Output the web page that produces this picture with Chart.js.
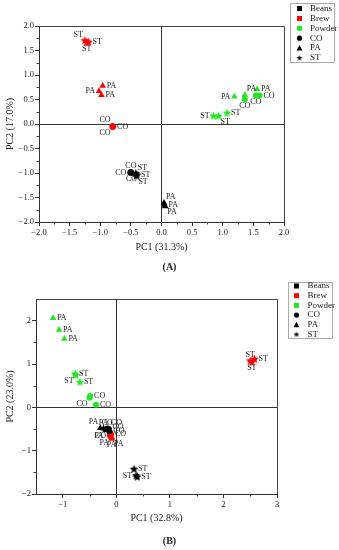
<!DOCTYPE html>
<html>
<head>
<meta charset="utf-8">
<script src="https://cdn.jsdelivr.net/npm/chart.js@4.4.1/dist/chart.umd.min.js"></script>
<style>
  body { margin: 0; background: #fff; }
  .panel { width: 339px; height: 275px; }
</style>
</head>
<body>
<div class="panel"><canvas id="chartA" width="339" height="275"></canvas></div>
<div class="panel"><canvas id="chartB" width="339" height="275"></canvas></div>
<script>
// ---- data (A) : [PC1, PC2] per sample ----
const aBeansCO  = [[-0.50, -0.98], [-0.51, -0.99], [-0.49, -1.00]];
const aBeansPA  = [[0.04, -1.61], [0.05, -1.65], [0.06, -1.68]];
const aBeansST  = [[-0.42, -1.01], [-0.40, -1.04], [-0.41, -1.06]];
const aBrewCO   = [[-0.80, -0.04], [-0.80, -0.06], [-0.79, -0.05]];
const aBrewPA   = [[-0.96, 0.78], [-1.02, 0.67], [-0.98, 0.59]];
const aBrewST   = [[-1.25, 1.70], [-1.19, 1.67], [-1.22, 1.66]];
const aPowderCO = [[1.36, 0.50], [1.54, 0.58], [1.60, 0.58]];
const aPowderPA = [[1.19, 0.56], [1.36, 0.59], [1.56, 0.71]];
const aPowderST = [[0.85, 0.16], [0.93, 0.16], [1.07, 0.22]];

// ---- data (B) ----
const bBeansCO  = [[-0.17, -0.49], [-0.14, -0.50], [-0.13, -0.55]];
const bBeansPA  = [[-0.30, -0.48], [-0.24, -0.49], [-0.20, -0.53]];
const bBeansST  = [[0.33, -1.43], [0.37, -1.58], [0.39, -1.61]];
const bBrewCO   = [[-0.10, -0.62], [-0.11, -0.60], [-0.12, -0.65]];
const bBrewPA   = [[-0.10, -0.68], [-0.08, -0.70], [-0.09, -0.73]];
const bBrewST   = [[2.50, 1.07], [2.58, 1.11], [2.53, 1.04]];
const bPowderCO = [[-0.49, 0.26], [-0.50, 0.22], [-0.38, 0.06]];
const bPowderPA = [[-1.18, 2.06], [-1.07, 1.79], [-0.97, 1.58]];
const bPowderST = [[-0.77, 0.77], [-0.76, 0.74], [-0.68, 0.58]];

const groups = ['Beans', 'Brew', 'Powder'];
const kinds = ['CO', 'PA', 'ST'];

const aTicksX = [-2.0, -1.5, -1.0, -0.5, 0.0, 0.5, 1.0, 1.5, 2.0];
const aTicksY = [-2.0, -1.5, -1.0, -0.5, 0.0, 0.5, 1.0, 1.5, 2.0];
const bTicksX = [-1, 0, 1, 2, 3];
const bTicksY = [-2, -1, 0, 1, 2];

// label placement for each point (r/l/t/b)
const aSides = {
  BeansCO: ['t', 'l', 'b'], BeansPA: ['tr', 'r', 'br'], BeansST: ['tr', 'r', 'br'],
  BrewCO: ['tl', 'bl', 'r'], BrewPA: ['r', 'l', 'r'], BrewST: ['tl', 'r', 'b'],
  PowderCO: ['b', 'b', 'r'], PowderPA: ['l', 'tr', 'r'], PowderST: ['l', 'br', 'r']
};
const bSides = {
  BeansCO: ['t', 'tr', 'r'], BeansPA: ['tl', 't', 'bl'], BeansST: ['r', 'l', 'r'],
  BrewCO: ['r', 'tr', 'l'], BrewPA: ['bl', 'br', 'b'], BrewST: ['t', 'r', 'b'],
  PowderCO: ['r', 'bl', 'r'], PowderPA: ['r', 'r', 'r'], PowderST: ['r', 'bl', 'r']
};

const colors = { Beans: '#000000', Brew: '#ff0000', Powder: '#22e622' };
const SERIF = '"Liberation Serif", "Times New Roman", serif';

function starImage(color, r) {
  const c = document.createElement('canvas');
  const s = Math.ceil(r * 2) + 2;
  c.width = c.height = s;
  const g = c.getContext('2d');
  g.fillStyle = color;
  g.beginPath();
  for (let k = 0; k < 10; k++) {
    const rr = k % 2 ? r * 0.45 : r;
    const a = -Math.PI / 2 + k * Math.PI / 5;
    g.lineTo(s / 2 + rr * Math.cos(a), s / 2 + rr * Math.sin(a));
  }
  g.closePath();
  g.fill();
  return c;
}

function buildDatasets(sets, sides) {
  const out = [];
  groups.forEach(g => {
    kinds.forEach(k => {
      const col = colors[g];
      let style = 'circle', radius = 3;
      if (k === 'PA') { style = 'triangle'; radius = 3.8; }
      if (k === 'ST') { style = starImage(col, 4.5); radius = 4.5; }
      out.push({
        label: g + ' ' + k,
        tag: k,
        sides: sides[g + k],
        data: sets[g + k].map(p => ({ x: p[0], y: p[1] })),
        pointStyle: style,
        pointRadius: radius,
        pointBorderWidth: 0,
        backgroundColor: col,
        borderColor: col,
        showLine: false
      });
    });
  });
  return out;
}

// point tags (CO / PA / ST) beside each marker
const pointTags = {
  id: 'pointTags',
  afterDatasetsDraw(chart) {
    const ctx = chart.ctx;
    ctx.save();
    ctx.font = '8px ' + SERIF;
    ctx.fillStyle = '#222';
    ctx.textBaseline = 'middle';
    chart.data.datasets.forEach((ds, i) => {
      chart.getDatasetMeta(i).data.forEach((pt, j) => {
        const side = ds.sides[j];
        let dx = 0, dy = 0, align = 'center';
        if (side.includes('r')) { dx = 4; align = 'left'; }
        if (side.includes('l')) { dx = -4; align = 'right'; }
        if (side.includes('t')) dy = -6;
        if (side.includes('b')) dy = 6;
        if (side.length === 2) dx = dx / 2;
        ctx.textAlign = align;
        ctx.fillText(ds.tag, pt.x + dx, pt.y + dy);
      });
    });
    ctx.restore();
  }
};

// box frame, minor ticks, legend and panel caption
const decor = {
  id: 'decor',
  afterDraw(chart, args, opts) {
    const ctx = chart.ctx;
    const a = chart.chartArea;
    ctx.save();
    ctx.strokeStyle = '#444';
    ctx.lineWidth = 1;
    ctx.beginPath();
    ctx.moveTo(a.left, a.top + 0.5);
    ctx.lineTo(a.right + 0.5, a.top + 0.5);
    ctx.lineTo(a.right + 0.5, a.bottom);
    ctx.stroke();

    // minor ticks between the labelled ones
    const xs = chart.scales.x, ys = chart.scales.y;
    ctx.beginPath();
    opts.minorX.forEach(v => {
      const px = Math.round(xs.getPixelForValue(v)) + 0.5;
      ctx.moveTo(px, a.bottom); ctx.lineTo(px, a.bottom + 2.5);
    });
    opts.minorY.forEach(v => {
      const py = Math.round(ys.getPixelForValue(v)) + 0.5;
      ctx.moveTo(a.left, py); ctx.lineTo(a.left - 2.5, py);
    });
    ctx.stroke();

    // legend
    const L = opts.legend;
    ctx.strokeStyle = '#aaa';
    ctx.strokeRect(L.x + 0.5, L.y + 0.5, L.w, L.h);
    ctx.font = '9px ' + SERIF;
    ctx.fillStyle = '#222';
    ctx.textAlign = 'left';
    ctx.textBaseline = 'middle';
    const items = [
      ['Beans', colors.Beans, 'rect'], ['Brew', colors.Brew, 'rect'], ['Powder', colors.Powder, 'rect'],
      ['CO', '#000', 'circle'], ['PA', '#000', 'triangle'], ['ST', '#000', 'star']
    ];
    items.forEach((it, i) => {
      const cy = L.y + L.first + i * L.step;
      const cx = L.x + L.mark;
      ctx.fillStyle = it[1];
      if (it[2] === 'rect') ctx.fillRect(cx - 2.5, cy - 2.5, 5, 5);
      if (it[2] === 'circle') { ctx.beginPath(); ctx.arc(cx, cy, 2.6, 0, Math.PI * 2); ctx.fill(); }
      if (it[2] === 'triangle') {
        ctx.beginPath(); ctx.moveTo(cx, cy - 3); ctx.lineTo(cx + 3, cy + 2.4); ctx.lineTo(cx - 3, cy + 2.4);
        ctx.closePath(); ctx.fill();
      }
      if (it[2] === 'star') { const s = starImage('#000', 3); ctx.drawImage(s, cx - s.width / 2, cy - s.height / 2); }
      ctx.fillStyle = '#222';
      ctx.fillText(it[0], L.x + L.text, cy);
    });

    // caption
    ctx.font = 'bold 10px ' + SERIF;
    ctx.textAlign = 'center';
    ctx.fillText(opts.caption, chart.width / 2, opts.captionY);
    ctx.restore();
  }
};

function fmtA(v) { return (v < 0 ? '\u2212' : '') + Math.abs(v).toFixed(1); }
function fmtB(v) { return (v < 0 ? '\u2212' : '') + Math.abs(v).toFixed(0); }

function makeChart(id, c) {
  const tickFont = { family: SERIF, size: 8.5 };
  const titleFont = { family: SERIF, size: 10 };
  const gridCfg = {
    drawOnChartArea: true,
    color: ctx => (ctx.tick && ctx.tick.value === 0) ? '#333' : 'rgba(0,0,0,0)',
    tickColor: '#333',
    tickLength: 4,
    lineWidth: 1
  };
  return new Chart(document.getElementById(id), {
    type: 'scatter',
    data: { datasets: c.datasets },
    options: {
      responsive: false,
      animation: false,
      events: [],
      layout: { padding: c.padding },
      plugins: {
        legend: { display: false },
        tooltip: { enabled: false },
        decor: c.decor
      },
      scales: {
        x: {
          type: 'linear', min: c.xMin, max: c.xMax,
          afterBuildTicks: s => { s.ticks = c.ticksX.map(v => ({ value: v })); },
          afterFit: s => { s.height = c.xh; },
          ticks: { callback: c.fmt, font: tickFont, color: '#222', padding: 2, maxRotation: 0, autoSkip: false },
          grid: gridCfg,
          border: { display: true, color: '#333', width: 1 },
          title: { display: true, text: c.xTitle, font: titleFont, color: '#222', padding: { top: 0, bottom: 0 } }
        },
        y: {
          type: 'linear', min: c.yMin, max: c.yMax,
          afterBuildTicks: s => { s.ticks = c.ticksY.map(v => ({ value: v })); },
          afterFit: s => { s.width = c.yw; },
          ticks: { callback: c.fmt, font: tickFont, color: '#222', padding: 1, autoSkip: false },
          grid: gridCfg,
          border: { display: true, color: '#333', width: 1 },
          title: { display: true, text: c.yTitle, font: titleFont, color: '#222', padding: { top: 4, bottom: 0 } }
        }
      }
    },
    plugins: [pointTags, decor]
  });
}

const mid = t => t.slice(0, -1).map((v, i) => (v + t[i + 1]) / 2);

makeChart('chartA', {
  datasets: buildDatasets({
    BeansCO: aBeansCO, BeansPA: aBeansPA, BeansST: aBeansST,
    BrewCO: aBrewCO, BrewPA: aBrewPA, BrewST: aBrewST,
    PowderCO: aPowderCO, PowderPA: aPowderPA, PowderST: aPowderST
  }, aSides),
  xMin: -2, xMax: 2, yMin: -2, yMax: 2,
  ticksX: aTicksX, ticksY: aTicksY, fmt: fmtA,
  xTitle: 'PC1 (31.3%)', yTitle: 'PC2 (17.0%)',
  padding: { top: 26, right: 55, bottom: 22, left: 0 },
  xh: 31, yw: 39,
  decor: {
    minorX: mid(aTicksX), minorY: mid(aTicksY),
    legend: { x: 290, y: 3, w: 44, h: 59, first: 5.5, step: 9.9, mark: 9.5, text: 20 },
    caption: '(A)', captionY: 267
  }
});

makeChart('chartB', {
  datasets: buildDatasets({
    BeansCO: bBeansCO, BeansPA: bBeansPA, BeansST: bBeansST,
    BrewCO: bBrewCO, BrewPA: bBrewPA, BrewST: bBrewST,
    PowderCO: bPowderCO, PowderPA: bPowderPA, PowderST: bPowderST
  }, bSides),
  xMin: -1.5, xMax: 3, yMin: -2, yMax: 2.5,
  ticksX: bTicksX, ticksY: bTicksY, fmt: fmtB,
  xTitle: 'PC1 (32.8%)', yTitle: 'PC2 (23.0%)',
  padding: { top: 24, right: 62, bottom: 26, left: 0 },
  xh: 30, yw: 36,
  decor: {
    minorX: [-0.5, 0.5, 1.5, 2.5], minorY: [-1.5, -0.5, 0.5, 1.5],
    legend: { x: 288, y: 7, w: 44, h: 56, first: 4, step: 9.7, mark: 8.5, text: 19.5 },
    caption: '(B)', captionY: 266
  }
});
</script>
</body>
</html>
